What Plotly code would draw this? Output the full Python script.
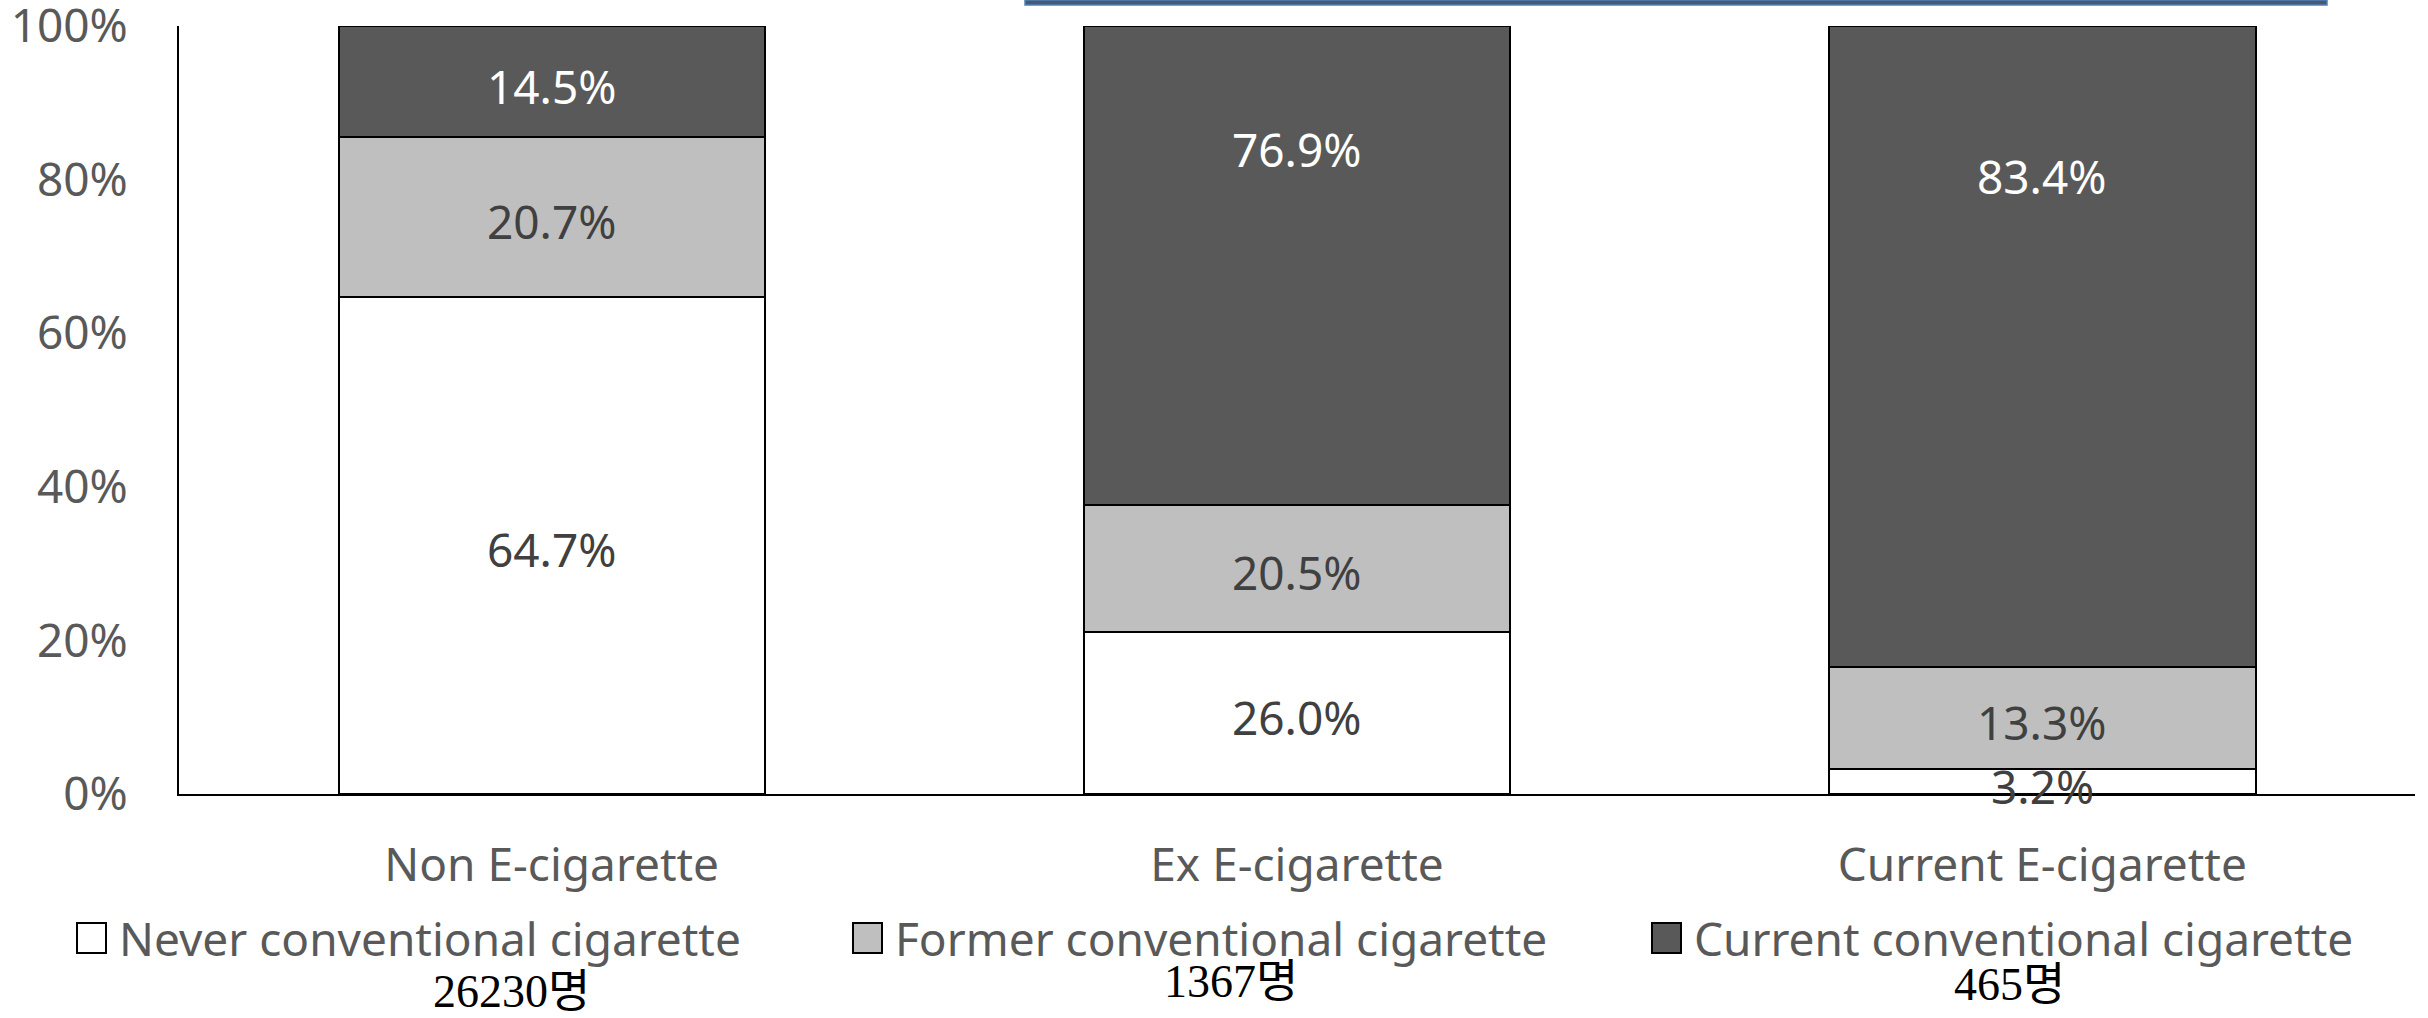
import plotly.graph_objects as go

categories = ["Non E-cigarette", "Ex E-cigarette", "Current E-cigarette"]
never = [64.7, 26.0, 3.2]
former = [20.7, 20.5, 13.3]
current = [14.5, 76.9, 83.4]
counts = ["26230명", "1367명", "465명"]
series_names = ["Never conventional cigarette", "Former conventional cigarette",
                "Current conventional cigarette"]

# label placement for the dark segment (labels were moved up in the original)
current_label_y = [None, 84.5, 81.0]

W, H = 2428, 1018
L, R, T, B = 179, 13, 26, 224
PW, PH = W - L - R, H - T - B

FONT = "Noto Sans, Noto Sans CJK KR, sans-serif"
SERIF = "Liberation Serif, Noto Sans CJK KR, serif"
fills = ["#FFFFFF", "#BFBFBF", "#595959"]
label_colors = ["#404040", "#404040", "#FFFFFF"]

fig = go.Figure()
for name, vals, col in zip(series_names, [never, former, current], fills):
    fig.add_trace(go.Bar(
        x=categories, y=vals, name=name,
        marker=dict(color=col, line=dict(color="#000000", width=2)),
        showlegend=False, hoverinfo="skip",
    ))

# data labels centred in normalised segments
for i, cat in enumerate(categories):
    tot = never[i] + former[i] + current[i]
    base = 0.0
    for k, vals in enumerate([never, former, current]):
        h = vals[i] / tot * 100
        yc = base + h / 2
        if k == 2 and current_label_y[i] is not None:
            yc = current_label_y[i]
        fig.add_annotation(x=cat, y=yc, xref="x", yref="y",
                           text=f"{vals[i]:.1f}%", showarrow=False,
                           yshift=-4,
                           font=dict(family=FONT, size=46, color=label_colors[k]))
        base += h

def px(xp):
    return (xp - L) / PW

def py(yp):
    return (H - B - yp) / PH

# manual legend
legend_sq = [77, 853, 1652]
for name, col, x0 in zip(series_names, fills, legend_sq):
    fig.add_shape(type="rect", xref="paper", yref="paper",
                  x0=px(x0), x1=px(x0 + 29), y0=py(953), y1=py(923),
                  fillcolor=col, line=dict(color="#000000", width=2))
    fig.add_annotation(xref="paper", yref="paper", x=px(x0 + 40), y=py(938),
                       xanchor="left", yanchor="middle", showarrow=False,
                       text=name, font=dict(family=FONT, size=46, color="#595959"))

# counts
count_x = [511, 1231, 2009]
count_y = [991, 981, 984]
for t, cx, cy in zip(counts, count_x, count_y):
    fig.add_annotation(xref="paper", yref="paper", x=px(cx), y=py(cy),
                       xanchor="center", yanchor="middle", showarrow=False,
                       text=t, font=dict(family=SERIF, size=46, color="#000000"))

# top decorative line
fig.add_shape(type="rect", xref="paper", yref="paper",
              x0=px(1025), x1=px(2327), y0=py(5), y1=py(0),
              fillcolor="#4a5a6e", line=dict(color="#4F81BD", width=1.5))

fig.update_layout(
    width=W, height=H,
    margin=dict(l=L, r=R, t=T, b=B, autoexpand=False),
    barmode="stack", barnorm="percent", bargap=0.428,
    plot_bgcolor="#FFFFFF", paper_bgcolor="#FFFFFF",
    font=dict(family=FONT, size=46, color="#595959"),
    showlegend=False,
)
fig.update_xaxes(type="category", range=[-0.5, 2.5], showline=True,
                 linecolor="#000000", linewidth=2, ticks="", showgrid=False,
                 ticklabelstandoff=30, automargin=False,
                 ticklabeloverflow="allow",
                 tickfont=dict(family=FONT, size=46, color="#595959"))
fig.update_yaxes(range=[0, 100], tickvals=[0, 20, 40, 60, 80, 100],
                 ticktext=["0%", "20%", "40%", "60%", "80%", "100%"],
                 showline=True, linecolor="#000000", linewidth=2, ticks="",
                 showgrid=False, zeroline=False, ticklabelstandoff=40,
                 automargin=False, ticklabeloverflow="allow",
                 tickfont=dict(family=FONT, size=46, color="#595959"))

fig.write_html("out.html",
               config={"displayModeBar": False},
               post_script="document.body.style.margin='0';"
                           "document.body.style.overflow='hidden';")
